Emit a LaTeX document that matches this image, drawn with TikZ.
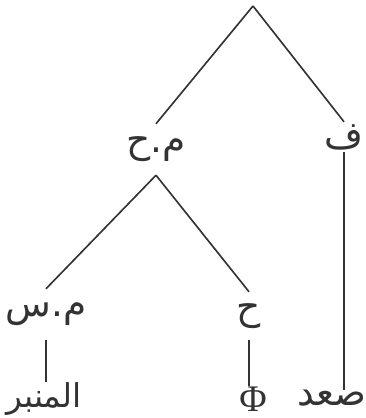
\documentclass[tikz,border=0pt]{standalone}
\usepackage{fontspec}
\newfontfamily\arabicfont[Script=Arabic]{DejaVu Sans}
\newfontfamily\greekfont{Liberation Serif}
\TeXXeTstate=1
\usetikzlibrary{positioning}
\tikzset{
  ar/.style={font=\arabicfont\fontsize{32}{34}\selectfont, inner sep=0pt, text=black!80},
  br/.style={draw=black!80, line width=1.4pt}
}
\begin{document}
\begin{tikzpicture}[x=0.03cm, y=-0.03cm]
\useasboundingbox (0,0) rectangle (366,418);
\coordinate (top) at (253,6);
\node[ar, minimum height=1.53cm] (mh) at (156,149.5) {\beginR م.ح\endR};
\node[ar, minimum height=0.9cm] (f) at (344,137) {\beginR ف\endR};
\node[ar, minimum height=1.53cm] (ms) at (46,314.5) {\beginR م.س\endR};
\node[ar, minimum height=1.44cm] (h) at (249,316) {\beginR ح\endR};
\node[ar, font=\arabicfont\fontsize{28}{30}\selectfont] (mnbr) at (44,399) {\beginR المنبر\endR};
\node[font=\greekfont\fontsize{32}{34}\selectfont, inner sep=0pt, text=black!80] (phi) at (253,399) {Φ};
\node[ar] (sad) at (332,398) {\beginR صعد\endR};
\draw[br] (top) -- (mh.north);
\draw[br] (top) -- (f.north);
\draw[br] (mh.south) -- (ms.north);
\draw[br] (mh.south) -- (h.north);
\draw[br] (ms.south) -- (ms.south |- mnbr.north);
\draw[br] (h.south) -- (h.south |- phi.north);
\draw[br] (f.south) -- (f.south |- sad.north);
\end{tikzpicture}
\end{document}
